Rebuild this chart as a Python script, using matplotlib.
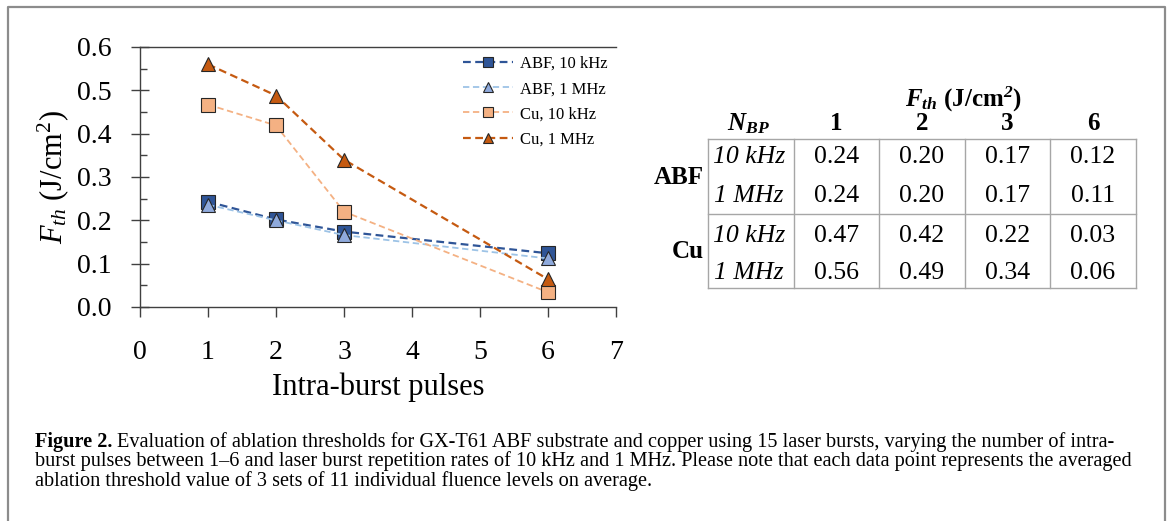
import matplotlib
matplotlib.use('Agg')
import matplotlib.pyplot as plt
from matplotlib.lines import Line2D

plt.rcParams['font.family'] = ['Liberation Serif', 'DejaVu Serif']
plt.rcParams['mathtext.fontset'] = 'custom'
plt.rcParams['mathtext.rm'] = 'Liberation Serif'
plt.rcParams['mathtext.it'] = 'Liberation Serif:italic'
plt.rcParams['mathtext.bf'] = 'Liberation Serif:bold:italic'

# data
pulses = [1, 2, 3, 6]
abf_10k = [0.243, 0.202, 0.174, 0.124]
abf_1m = [0.236, 0.200, 0.166, 0.112]
cu_10k = [0.467, 0.419, 0.220, 0.034]
cu_1m = [0.560, 0.488, 0.340, 0.064]
series_names = ['ABF, 10 kHz', 'ABF, 1 MHz', 'Cu, 10 kHz', 'Cu, 1 MHz']
rate_labels = ['10 kHz', '1 MHz']
material_labels = ['ABF', 'Cu']
caption_lines = [
    'Evaluation of ablation thresholds for GX-T61 ABF substrate and copper using 15 laser bursts, varying the number of intra-',
    'burst pulses between 1\u20136 and laser burst repetition rates of 10 kHz and 1 MHz. Please note that each data point represents the averaged',
    'ablation threshold value of 3 sets of 11 individual fluence levels on average.',
]

W, H = 1171, 521
fig = plt.figure(figsize=(W / 100, H / 100), dpi=100)

def fx(px):
    return px / W

def fy(py):
    return 1 - py / H

# outer frame (bottom edge runs off the picture)
fig.add_artist(Line2D([fx(8), fx(8), fx(1165), fx(1165)], [0, fy(7), fy(7), 0],
                      color='#8c8c8c', lw=1.6, transform=fig.transFigure))

ax = fig.add_axes([fx(140), fy(307), fx(616) - fx(140), fy(47) - fy(307)])

styles = [
    dict(color='#2f5597', mfc='#2f5597', marker='s', lw=1.6),
    dict(color='#9dc3e6', mfc='#8faadc', marker='^', lw=1.3),
    dict(color='#f4b183', mfc='#f4b183', marker='s', lw=1.3),
    dict(color='#c55a11', mfc='#c55a11', marker='^', lw=1.6),
]
for vals, name, st in zip([abf_10k, abf_1m, cu_10k, cu_1m], series_names, styles):
    ax.plot(pulses, vals, ls=(0, (3.5, 2)), ms=10, mec='#262626', mew=0.8,
            label=name, **st)

ax.set_xlim(0, 7)
ax.set_ylim(0, 0.6)
ax.set_xticks(range(0, 8))
ax.set_yticks([0, 0.1, 0.2, 0.3, 0.4, 0.5, 0.6])
ax.set_yticklabels(['0.0', '0.1', '0.2', '0.3', '0.4', '0.5', '0.6'])
ax.set_yticks([0.05, 0.15, 0.25, 0.35, 0.45, 0.55], minor=True)
ax.tick_params(axis='x', direction='out', length=7, width=1, pad=17, labelsize=20, color='#404040')
ax.tick_params(axis='y', which='major', direction='inout', length=13, width=1, pad=14, labelsize=20, color='#404040')
ax.tick_params(axis='y', which='minor', direction='in', length=5, width=1, color='#404040')
ax.spines['right'].set_visible(False)
for s in ['left', 'bottom', 'top']:
    ax.spines[s].set_color('#404040')
    ax.spines[s].set_linewidth(1)
ax.set_xlabel('Intra-burst pulses', fontsize=22, labelpad=5)
ax.set_ylabel('$F_{th}$ (J/cm$^2$)', fontsize=22, labelpad=4)

ax.legend(loc='upper left', bbox_to_anchor=(fx(463), fy(56)), bbox_transform=fig.transFigure,
          frameon=False, fontsize=12, handlelength=3.0, handletextpad=0.4,
          labelspacing=0.55, borderpad=0, borderaxespad=0, markerscale=0.75)

# table on the right
col_edges = [708, 794, 879, 965, 1050, 1136]
row_lines = [139, 214, 288]
row_centers = [157, 196, 236, 273]
grid_c = '#a6a6a6'
for x in col_edges:
    fig.add_artist(Line2D([fx(x), fx(x)], [fy(139), fy(288)], color=grid_c, lw=1, transform=fig.transFigure))
for y in row_lines:
    fig.add_artist(Line2D([fx(708), fx(1136)], [fy(y), fy(y)], color=grid_c, lw=1, transform=fig.transFigure))

fig.text(fx(963), fy(99), r'$\mathbf{F_{th}}$ (J/cm$^{\mathbf{2}}$)', fontsize=18, fontweight='bold',
         ha='center', va='center')
fig.text(fx(748), fy(124), r'$\mathbf{N_{BP}}$', fontsize=18, ha='center', va='center')
table_rows = [abf_10k, abf_1m, cu_10k, cu_1m]
for j, p in enumerate(pulses):
    cx = (col_edges[j + 1] + col_edges[j + 2]) / 2
    fig.text(fx(cx), fy(123), str(p), fontsize=18, fontweight='bold', ha='center', va='center')
    for i, vals in enumerate(table_rows):
        fig.text(fx(cx), fy(row_centers[i]), f'{vals[j]:.2f}', fontsize=18.5, ha='center', va='center')
for i in range(4):
    fig.text(fx(749), fy(row_centers[i]), rate_labels[i % 2], fontsize=18.5, style='italic',
             ha='center', va='center')
fig.text(fx(704), fy(177), material_labels[0], fontsize=18, fontweight='bold', ha='right', va='center')
fig.text(fx(704), fy(252), material_labels[1], fontsize=18, fontweight='bold', ha='right', va='center')

# caption
cap_fs = 14.6
fig.canvas.draw()
r = fig.canvas.get_renderer()
t0 = fig.text(fx(35), fy(442), 'Figure 2.', fontsize=cap_fs, fontweight='bold', va='center')
bb = t0.get_window_extent(renderer=r)
fig.text(bb.x1 / W + fx(5), fy(442), caption_lines[0], fontsize=cap_fs, va='center')
fig.text(fx(35), fy(461.5), caption_lines[1], fontsize=cap_fs, va='center')
fig.text(fx(35), fy(481), caption_lines[2], fontsize=cap_fs, va='center')

fig.savefig('out.png', dpi=100)
